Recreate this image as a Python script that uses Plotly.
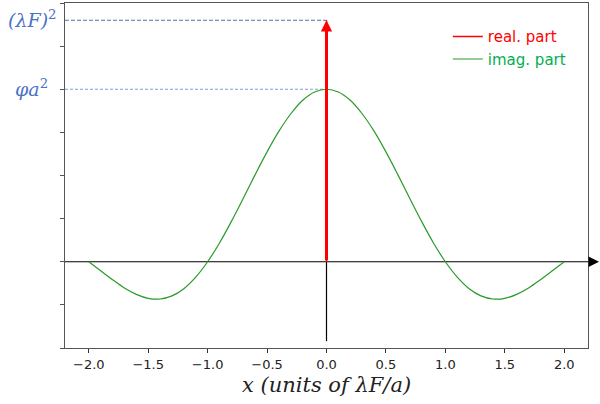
import plotly.graph_objects as go

# data
x_imag = [-2.0, -1.9, -1.8, -1.7, -1.6, -1.5, -1.4, -1.3, -1.2, -1.1, -1.0,
          -0.9, -0.8, -0.7, -0.6, -0.5, -0.4, -0.3, -0.2, -0.1, 0.0,
          0.1, 0.2, 0.3, 0.4, 0.5, 0.6, 0.7, 0.8, 0.9, 1.0,
          1.1, 1.2, 1.3, 1.4, 1.5, 1.6, 1.7, 1.8, 1.9, 2.0]
y_imag = [0.0, -0.052, -0.104, -0.152, -0.189, -0.212, -0.216, -0.198, -0.156, -0.089, 0.0,
          0.109, 0.234, 0.368, 0.505, 0.637, 0.757, 0.858, 0.936, 0.984, 1.0,
          0.984, 0.936, 0.858, 0.757, 0.637, 0.505, 0.368, 0.234, 0.109, 0.0,
          -0.089, -0.156, -0.198, -0.216, -0.212, -0.189, -0.152, -0.104, -0.052, 0.0]
x_real = [0.0, 0.0]
y_real = [0.0, 1.4]
delta_height = 1.4     # (λF)^2
peak_height = 1.0      # φa^2
x_ticks = [-2.0, -1.5, -1.0, -0.5, 0.0, 0.5, 1.0, 1.5, 2.0]
x_range = [-2.2, 2.2]

blue = "#4a72c8"
frac0 = (0 - x_range[0]) / (x_range[1] - x_range[0])

fig = go.Figure()
fig.add_trace(go.Scatter(
    x=x_real, y=y_real, mode="lines",
    line=dict(color="red", width=1.5),
    name='<span style="color:red">real. part</span>',
))
fig.add_trace(go.Scatter(
    x=x_imag, y=y_imag, mode="lines", line=dict(color="#2a9a2a", width=1.2, shape="spline"),
    name='<span style="color:#00b050">imag. part</span>',
))

shapes = [
    dict(type="line", xref="x", yref="y", x0=0, x1=0, y0=-0.46, y1=0,
         line=dict(color="black", width=1.2), layer="below"),
    dict(type="line", xref="paper", yref="y", x0=0, x1=1.01, y0=0, y1=0,
         line=dict(color="black", width=1.2), layer="below"),
    dict(type="line", xref="paper", yref="y", x0=0, x1=frac0, y0=delta_height, y1=delta_height,
         line=dict(color="#5570a8", width=1, dash="4px,2px"), layer="below"),
    dict(type="line", xref="paper", yref="y", x0=0, x1=frac0, y0=peak_height, y1=peak_height,
         line=dict(color="#7a9ee6", width=1, dash="3px,2px"), layer="below"),
]

annotations = [
    dict(x=x_real[1], y=y_real[1], xref="x", yref="y", ax=x_real[0], ay=y_real[0],
         axref="x", ayref="y", showarrow=True, arrowhead=2, arrowsize=0.75,
         arrowwidth=3, arrowcolor="red", text="", standoff=0),
    dict(x=1.025, y=0, xref="paper", yref="y", ax=-12, ay=0, showarrow=True,
         arrowhead=2, arrowsize=1.4, arrowwidth=1.5, arrowcolor="black", text=""),
    dict(x=-0.012, y=delta_height + 0.01, xref="paper", yref="y", text="<i>(λF)</i><sup>2</sup>",
         showarrow=False, xanchor="right", yanchor="middle",
         font=dict(family="DejaVu Serif", size=19, color=blue)),
    dict(x=-0.029, y=peak_height + 0.01, xref="paper", yref="y", text="<i>φa</i><sup>2</sup>",
         showarrow=False, xanchor="right", yanchor="middle",
         font=dict(family="DejaVu Serif", size=19, color=blue)),
    dict(x=0.5, y=-0.107, xref="paper", yref="paper", text="<i>x (units of λF/a)</i>",
         showarrow=False, xanchor="center", yanchor="middle",
         font=dict(family="DejaVu Serif", size=21, color="#222")),
]

fig.update_layout(
    width=600, height=404,
    margin=dict(l=65, r=12, t=3, b=56, autoexpand=False),
    plot_bgcolor="white", paper_bgcolor="white",
    shapes=shapes, annotations=annotations,
    showlegend=True,
    legend=dict(x=0.732, y=0.95, xanchor="left", yanchor="top",
                bgcolor="rgba(0,0,0,0)", font=dict(family="DejaVu Sans", size=15),
                itemwidth=30, tracegroupgap=0),
    xaxis=dict(range=x_range, tickvals=x_ticks, tickformat=".1f", automargin=False,
               ticks="outside", ticklen=4, tickcolor="#333", showgrid=False, zeroline=False,
               showline=True, linecolor="#555", linewidth=1, mirror=True,
               tickfont=dict(family="DejaVu Sans", size=13, color="#222")),
    yaxis=dict(range=[-0.5, 1.5], tick0=-0.5, dtick=0.25, showticklabels=False, automargin=False,
               ticks="outside", ticklen=4, tickcolor="#555", showgrid=False, zeroline=False,
               showline=True, linecolor="#555", linewidth=1, mirror=True),
)

fig.write_html("out.html", post_script="document.body.style.margin='0';",
               config={"displayModeBar": False})
